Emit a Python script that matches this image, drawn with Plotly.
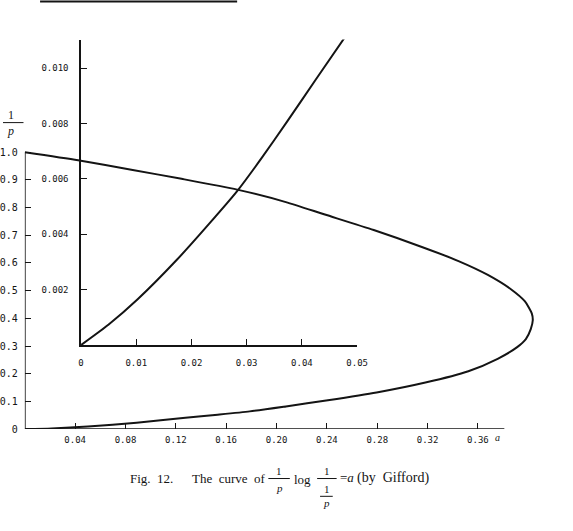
import plotly.graph_objects as go

W, H = 573, 531

# main curve: a (x) vs 1/p (y), upper branch -> nose -> lower branch
main_a = [0.0, 0.0423, 0.0857, 0.1245, 0.1687, 0.2074, 0.2384, 0.2772, 0.3160, 0.3446, 0.3679,
          0.3857, 0.3974, 0.4028, 0.4036, 0.4020, 0.3981, 0.3912, 0.3757, 0.3524, 0.3183,
          0.2795, 0.2408, 0.2074, 0.1787, 0.1532, 0.1276, 0.0888, 0.0501, 0.0214, 0.0]
main_q = [1.000, 0.971, 0.936, 0.904, 0.865, 0.820, 0.775, 0.719, 0.657, 0.607, 0.557,
          0.507, 0.461, 0.418, 0.393, 0.361, 0.325, 0.296, 0.254, 0.209, 0.168,
          0.132, 0.104, 0.082, 0.064, 0.052, 0.041, 0.023, 0.009, 0.0025, 0.0]

# inset curve (small-a region)
inset_a = [0.0, 0.00495, 0.01025, 0.01731, 0.02314, 0.02827, 0.03269, 0.03728, 0.04258, 0.04841]
inset_q = [0.0, 0.000732, 0.001654, 0.003071, 0.004368, 0.005561, 0.00675, 0.00806, 0.00961, 0.0113]

main_xticks = [0.04, 0.08, 0.12, 0.16, 0.20, 0.24, 0.28, 0.32, 0.36]
main_xtext = ["0.04", "0.08", "0.12", "0.16", "0.20", "0.24", "0.28", "0.32", "0.36"]
main_yticks = [0, 0.1, 0.2, 0.3, 0.4, 0.5, 0.6, 0.7, 0.8, 0.9, 1.0]
main_ytext = ["0", "0.1", "0.2", "0.3", "0.4", "0.5", "0.6", "0.7", "0.8", "0.9", "1.0"]
inset_xticks = [0, 0.01, 0.02, 0.03, 0.04, 0.05]
inset_xtext = ["0", "0.01", "0.02", "0.03", "0.04", "0.05"]
inset_yticks = [0.002, 0.004, 0.006, 0.008, 0.010]
inset_ytext = ["0.002", "0.004", "0.006", "0.008", "0.010"]


def px(x):
    return x / W


def py(y):
    return 1 - y / H


INK = "#141414"
TICKFONT = dict(family="DejaVu Sans Mono", size=9, color=INK)
YTICKFONT = dict(family="DejaVu Sans Mono", size=10, color=INK)
SERIF = "Liberation Serif"

fig = go.Figure()
fig.add_trace(go.Scatter(x=main_a, y=main_q, mode="lines",
                         line=dict(color=INK, width=2, shape="spline", smoothing=0.6),
                         xaxis="x", yaxis="y", cliponaxis=False, showlegend=False, hoverinfo="skip"))
fig.add_trace(go.Scatter(x=inset_a, y=inset_q, mode="lines",
                         line=dict(color=INK, width=2, shape="spline", smoothing=0.5),
                         xaxis="x2", yaxis="y2", cliponaxis=False, showlegend=False, hoverinfo="skip"))

x0m, y0m = 22.4, 434.0
xr = (W - x0m) / 1290.0
yr = y0m / 280.0

fig.update_layout(
    width=W, height=H, autosize=False, margin=dict(l=0, r=0, t=0, b=0, pad=0),
    paper_bgcolor="white", plot_bgcolor="rgba(0,0,0,0)",
    showlegend=False,
    xaxis=dict(domain=[px(x0m), 1], range=[0, xr], showgrid=False, zeroline=False, showline=False,
               tickmode="array", tickvals=main_xticks, ticktext=main_xtext, ticks="inside",
               ticklen=6, tickwidth=1.3, tickcolor=INK, tickfont=TICKFONT, ticklabelstandoff=4),
    yaxis=dict(domain=[py(y0m), 1], range=[0, yr], showgrid=False, zeroline=False, showline=False,
               tickmode="array", tickvals=main_yticks, ticktext=main_ytext, ticks="inside",
               ticklen=6, tickwidth=1.3, tickcolor=INK, tickfont=YTICKFONT, ticklabelstandoff=6),
    xaxis2=dict(domain=[px(80), px(363)], range=[0, 0.05], anchor="y2", showgrid=False, zeroline=False,
                showline=True, linecolor=INK, linewidth=1.5,
                tickmode="array", tickvals=inset_xticks, ticktext=inset_xtext, ticks="inside",
                ticklen=6, tickwidth=1.3, tickcolor=INK, tickfont=TICKFONT, ticklabelstandoff=8),
    yaxis2=dict(domain=[py(349), py(40)], range=[0, (349 - 40) / 28000.0], anchor="x2", showgrid=False,
                zeroline=False, showline=True, linecolor=INK, linewidth=1.5,
                tickmode="array", tickvals=inset_yticks, ticktext=inset_ytext, ticks="inside",
                ticklen=6, tickwidth=1.3, tickcolor=INK, tickfont=TICKFONT, ticklabelstandoff=9),
)

shapes = [
    # main axis lines
    dict(type="line", xref="x", yref="y", x0=0, y0=0, x1=0.381, y1=0, line=dict(color=INK, width=1.6)),
    dict(type="line", xref="x", yref="y", x0=0, y0=0, x1=0, y1=1.0, line=dict(color=INK, width=1.6)),
    # y-label fraction bar
    dict(type="line", xref="paper", yref="paper", x0=px(0), y0=py(124), x1=px(21), y1=py(124), line=dict(color=INK, width=1)),
    # caption fraction bars
    dict(type="line", xref="paper", yref="paper", x0=px(272), y0=py(484), x1=px(294), y1=py(484), line=dict(color=INK, width=1)),
    dict(type="line", xref="paper", yref="paper", x0=px(322), y0=py(484), x1=px(342), y1=py(484), line=dict(color=INK, width=1)),
    dict(type="line", xref="paper", yref="paper", x0=px(325), y0=py(502), x1=px(338), y1=py(502), line=dict(color=INK, width=1)),
    # top rule
    dict(type="line", xref="paper", yref="paper", x0=px(38), y0=py(1.5), x1=px(240), y1=py(1.5), line=dict(color=INK, width=2)),
]
fig.update_layout(shapes=shapes)

ann = []


def note(x, y, text, size=13, family=SERIF, xanchor="center"):
    ann.append(dict(x=px(x), y=py(y), xref="paper", yref="paper", text=text, showarrow=False,
                    xanchor=xanchor, yanchor="middle", font=dict(family=family, size=size, color=INK)))


# main y-axis label 1/p
note(8, 116, "1", size=12)
note(8, 133, "<i>p</i>", size=12)
# x-axis 'a'
note(507, 443, "<i>a</i>", size=10)
# caption
note(128, 484, "Fig.  12.", size=13, xanchor="left")
note(192, 484, "The  curve  of", size=13, xanchor="left")
note(283, 476, "1", size=11)
note(283, 494, "<i>p</i>", size=11)
note(307, 485, "log", size=13)
note(332, 476, "1", size=11)
note(332, 495, "1", size=11)
note(332, 509, "<i>p</i>", size=11)
note(343, 483, "=<i>a</i>", size=13, xanchor="left")
note(361, 483, "(by  Gifford)", size=14, xanchor="left")
fig.update_layout(annotations=ann)

fig.write_html("out.html", config={"responsive": False})
